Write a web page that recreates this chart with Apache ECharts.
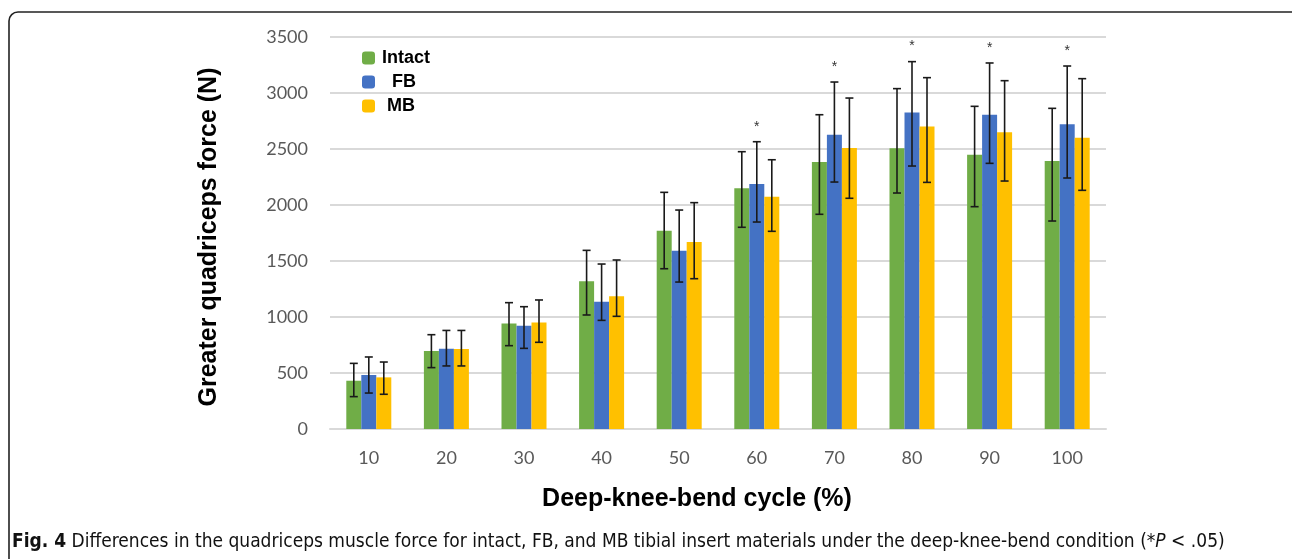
<!DOCTYPE html>
<html>
<head>
<meta charset="utf-8">
<script src="https://cdn.jsdelivr.net/npm/echarts@6/dist/echarts.min.js"></script>
<style>
html,body{margin:0;padding:0;background:#fff;}
#chart{width:1292px;height:559px;}
</style>
</head>
<body>
<div id="chart"></div>
<script>
// ---- data ----
var categories = ['10','20','30','40','50','60','70','80','90','100'];
var seriesNames = ['Intact','FB','MB'];
var intact   = [431, 696, 943, 1319, 1771, 2149, 2384, 2506, 2449, 2393];
var intactHi = [586, 842, 1128, 1595, 2113, 2476, 2806, 3039, 2881, 2863];
var intactLo = [289, 548, 744, 1018, 1431, 1801, 1917, 2107, 1985, 1857];
var fb       = [482, 717, 922, 1137, 1592, 2188, 2628, 2827, 2806, 2720];
var fbHi     = [643, 880, 1092, 1473, 1955, 2565, 3098, 3280, 3268, 3241];
var fbLo     = [321, 563, 720, 970, 1312, 1848, 2205, 2348, 2372, 2241];
var mb       = [461, 714, 952, 1185, 1670, 2074, 2509, 2702, 2649, 2601];
var mbHi     = [598, 880, 1152, 1509, 2021, 2404, 2955, 3137, 3110, 3128];
var mbLo     = [310, 563, 774, 1006, 1342, 1765, 2060, 2202, 2214, 2131];
var fbSignificant = [0, 0, 0, 0, 0, 1, 1, 1, 1, 1];
var yTicks = [0, 500, 1000, 1500, 2000, 2500, 3000, 3500];

var colors = ['#70AD47', '#4472C4', '#FFC000'];
var BAR_W = 15;
var CAP_FONT = '"DejaVu Sans Condensed", "DejaVu Sans", sans-serif';

function errData(hi, lo, sig) {
  return categories.map(function (c, i) {
    return [i, hi[i], lo[i], sig ? sig[i] : 0];
  });
}

function makeErr(k, hi, lo, sig) {
  return {
    type: 'custom',
    name: seriesNames[k] + ' err',
    z: 5,
    silent: true,
    encode: { x: 0, y: [1, 2] },
    data: errData(hi, lo, sig),
    renderItem: function (params, api) {
      var idx = api.value(0);
      var top = api.coord([idx, api.value(1)]);
      var bot = api.coord([idx, api.value(2)]);
      var x = top[0] + (k - 1) * BAR_W;
      var cap = 4;
      var st = { stroke: '#1a1a1a', lineWidth: 1.6 };
      var children = [
        { type: 'line', shape: { x1: x, y1: top[1], x2: x, y2: bot[1] }, style: st },
        { type: 'line', shape: { x1: x - cap, y1: top[1], x2: x + cap, y2: top[1] }, style: st },
        { type: 'line', shape: { x1: x - cap, y1: bot[1], x2: x + cap, y2: bot[1] }, style: st }
      ];
      if (api.value(3)) {
        children.push({
          type: 'text',
          style: { text: '*', x: x, y: top[1] - 15, textAlign: 'center', textVerticalAlign: 'middle',
                   fill: '#333', font: '14px Arial' }
        });
      }
      return { type: 'group', children: children };
    }
  };
}

var chart = echarts.init(document.getElementById('chart'));
var option = {
  animation: false,
  backgroundColor: '#ffffff',
  grid: { left: 330, right: 186, top: 37, bottom: 130, containLabel: false },
  legend: {
    orient: 'vertical',
    left: 357,
    top: 44,
    itemWidth: 13,
    itemHeight: 13,
    itemGap: 6,
    data: seriesNames,
    formatter: function (n) { return n === 'Intact' ? n : (n === 'FB' ? '  ' + n : ' ' + n); },
    textStyle: { fontFamily: 'Liberation Sans, Arial', fontWeight: 'bold', fontSize: 18, color: '#000', padding: [0, 0, 0, 2] }
  },
  xAxis: {
    type: 'category',
    data: categories,
    axisLine: { show: true, lineStyle: { color: '#d9d9d9', width: 2 } },
    axisTick: { show: false },
    axisLabel: { margin: 20, fontFamily: 'Lato', fontSize: 18, color: '#595959' }
  },
  yAxis: {
    type: 'value',
    min: 0,
    max: 3500,
    interval: 500,
    axisLine: { show: false },
    axisTick: { show: false },
    splitLine: { lineStyle: { color: '#d9d9d9', width: 2 } },
    axisLabel: { margin: 22, fontFamily: 'Lato', fontSize: 18, color: '#595959',
                 formatter: function (v) { return yTicks.indexOf(v) >= 0 ? String(v) : ''; } }
  },
  graphic: [
    { type: 'rect', silent: true,
      shape: { x: 9, y: 12, width: 1320, height: 620, r: 9 },
      style: { fill: 'none', stroke: '#222', lineWidth: 1.6 } },
    { type: 'text', x: 209, y: 237, rotation: Math.PI / 2,
      style: { text: 'Greater quadriceps force (N)', textAlign: 'center', textVerticalAlign: 'middle',
               font: 'bold 25px "Liberation Sans", Arial', fill: '#000' } },
    { type: 'text', x: 697, y: 499,
      style: { text: 'Deep-knee-bend cycle (%)', textAlign: 'center', textVerticalAlign: 'middle',
               font: 'bold 25px "Liberation Sans", Arial', fill: '#000' } },
    { type: 'text', x: 12, y: 542,
      style: {
        text: '{b|Fig. 4} Differences in the quadriceps muscle force for intact, FB, and MB tibial insert materials under the deep-knee-bend condition (*{i|P} < .05)',
        textVerticalAlign: 'middle',
        font: '19px ' + CAP_FONT,
        fill: '#111',
        rich: {
          b: { fontWeight: 'bold', fontSize: 19, fontFamily: CAP_FONT, fill: '#111' },
          i: { fontStyle: 'italic', fontSize: 19, fontFamily: CAP_FONT, fill: '#111' }
        }
      } }
  ],
  series: [
    { name: 'Intact', type: 'bar', data: intact, barWidth: BAR_W, barGap: '0%', itemStyle: { color: colors[0] } },
    { name: 'FB', type: 'bar', data: fb, barWidth: BAR_W, barGap: '0%', itemStyle: { color: colors[1] } },
    { name: 'MB', type: 'bar', data: mb, barWidth: BAR_W, barGap: '0%', itemStyle: { color: colors[2] } },
    makeErr(0, intactHi, intactLo, null),
    makeErr(1, fbHi, fbLo, fbSignificant),
    makeErr(2, mbHi, mbLo, null)
  ]
};
chart.setOption(option);
</script>
</body>
</html>
